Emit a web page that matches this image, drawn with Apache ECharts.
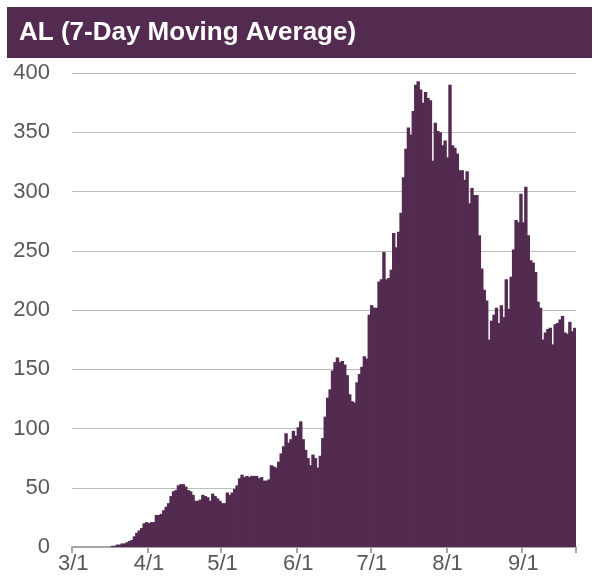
<!DOCTYPE html>
<html>
<head>
<meta charset="utf-8">
<script src="https://cdn.jsdelivr.net/npm/echarts@6/dist/echarts.min.js"></script>
<style>
  html, body { margin: 0; padding: 0; background: #fff; }
  #chart { width: 614px; height: 580px; }
</style>
</head>
<body>
<div id="chart"></div>
<script>
// 7-day moving average, one value per day, 3/1 .. 9/22
var mar = [0, 0, 0, 0, 0, 0, 0, 0, 0, 0, 0, 0, 0, 0, 0, 0, 1, 1, 2, 2, 3, 3, 4, 5, 6, 9, 12, 14, 16, 20, 21]
var apr = [20, 21, 21, 27, 27, 28, 31, 34, 37, 43, 47, 48, 52, 53, 53, 51, 48, 47, 44, 39, 39, 40, 44, 43, 42, 39, 45, 43, 41, 39]
var may = [37, 37, 46, 44, 46, 49, 52, 58, 61, 59, 60, 59, 60, 60, 60, 58, 59, 56, 56, 57, 69, 68, 67, 72, 79, 85, 96, 88, 91, 98, 94]
var jun = [101, 106, 91, 82, 75, 69, 78, 75, 67, 77, 92, 110, 126, 133, 149, 156, 160, 156, 157, 154, 145, 129, 123, 122, 139, 146, 152, 161, 159, 196]
var jul = [204, 202, 202, 224, 226, 249, 226, 227, 234, 265, 253, 266, 282, 312, 336, 354, 348, 368, 390, 393, 386, 375, 384, 379, 377, 326, 358, 351, 350, 339, 343]
var aug = [329, 390, 339, 337, 332, 318, 318, 310, 317, 290, 303, 297, 297, 263, 235, 217, 208, 175, 191, 196, 202, 189, 204, 194, 226, 201, 228, 251, 276, 274, 298]
var sep = [274, 304, 263, 242, 240, 232, 207, 202, 175, 181, 184, 185, 171, 188, 189, 192, 195, 181, 180, 190, 182, 185]

var months = [[3, mar], [4, apr], [5, may], [6, jun], [7, jul], [8, aug], [9, sep]]
var tickLabels = ['3/1', '4/1', '5/1', '6/1', '7/1', '8/1', '9/1']

var days = []
var values = []
months.forEach(function (m) {
  m[1].forEach(function (v, d) {
    days.push(m[0] + '/' + (d + 1))
    values.push(v)
  })
})

var purple = '#532a50'
var chart = echarts.init(document.getElementById('chart'))

function isMonthStart(index, value) {
  return tickLabels.indexOf(value) !== -1
}

chart.setOption({
  animation: false,
  textStyle: { fontFamily: 'Liberation Sans, Arial, sans-serif' },
  graphic: [
    {
      type: 'rect',
      shape: { x: 7, y: 7, width: 585, height: 51 },
      style: { fill: purple }
    },
    {
      type: 'text',
      left: 19,
      top: 20,
      style: {
        text: 'AL (7-Day Moving Average)',
        fill: '#fff',
        font: 'bold 26px "Liberation Sans", Arial, sans-serif'
      }
    }
  ],
  grid: {
    left: 72,
    right: 38,
    top: 73,
    bottom: 33
  },
  xAxis: {
    type: 'category',
    data: days,
    boundaryGap: true,
    axisLine: {
      lineStyle: { color: '#a6a6a6', width: 2 }
    },
    axisTick: {
      show: true,
      interval: isMonthStart,
      length: 6,
      lineStyle: { color: '#a6a6a6', width: 2 }
    },
    axisLabel: {
      interval: isMonthStart,
      color: '#595959',
      fontSize: 22,
      margin: 6
    },
    splitLine: { show: false }
  },
  yAxis: {
    type: 'value',
    min: 0,
    max: 400,
    interval: 50,
    axisLine: { show: false },
    axisTick: { show: false },
    axisLabel: {
      color: '#595959',
      fontSize: 22,
      margin: 22
    },
    splitLine: {
      lineStyle: { color: '#bdbdbd', width: 1 }
    }
  },
  series: [
    {
      type: 'bar',
      data: values,
      barWidth: 3.4,
      itemStyle: { color: purple }
    }
  ]
})
</script>
</body>
</html>
